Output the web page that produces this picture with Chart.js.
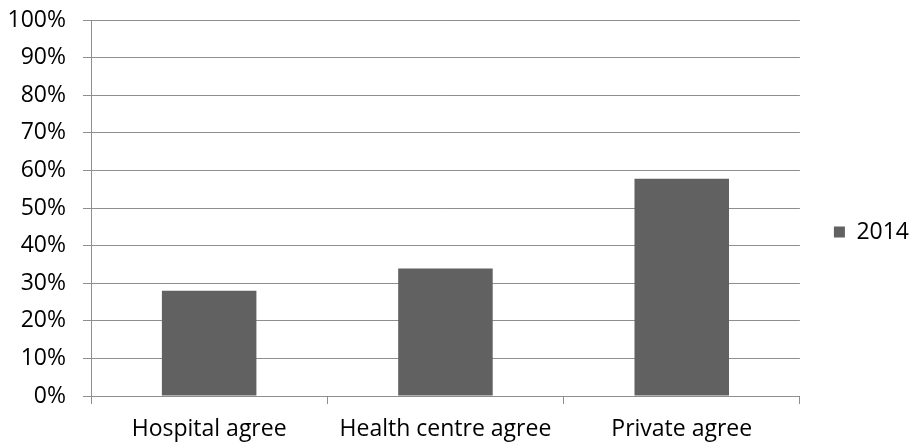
<!DOCTYPE html>
<html>
<head>
<meta charset="utf-8">
<script src="https://cdn.jsdelivr.net/npm/chart.js@4/dist/chart.umd.min.js"></script>
<style>
  html, body { margin: 0; padding: 0; background: #fff; }
  #wrap { width: 919px; height: 444px; }
</style>
</head>
<body>
<div id="wrap"><canvas id="c" width="919" height="444"></canvas></div>
<script>
//data
const categories = ['Hospital agree', 'Health centre agree', 'Private agree']
const seriesName = '2014'
const values2014 = [0.28, 0.339, 0.578]
const yTicks = [0, 0.1, 0.2, 0.3, 0.4, 0.5, 0.6, 0.7, 0.8, 0.9, 1]

const GRID = '#8e8e8e'
const BAR = '#616161'
const FONT = {family: 'Open Sans', size: 23}

new Chart(document.getElementById('c'), {
    type: 'bar',
    data: {
        labels: categories,
        datasets: [{
            label: seriesName,
            data: values2014,
            backgroundColor: BAR,
            borderWidth: 0,
            barPercentage: 0.4,
            categoryPercentage: 1
        }]
    },
    options: {
        responsive: false,
        animation: false,
        layout: {padding: {top: 20, right: 0, bottom: 0, left: 0}},
        plugins: {
            tooltip: {enabled: false},
            legend: {
                position: 'right',
                labels: {
                    color: '#000',
                    font: FONT,
                    boxWidth: 11,
                    boxHeight: 11,
                    padding: 34
                }
            }
        },
        scales: {
            x: {
                offset: true,
                afterFit: axis => { axis.height = 48 },
                grid: {color: GRID, lineWidth: 1, drawOnChartArea: false, tickLength: 8, offset: true},
                border: {color: GRID},
                ticks: {color: '#000', font: FONT, padding: 12, maxRotation: 0}
            },
            y: {
                min: 0,
                max: 1,
                afterBuildTicks: axis => { axis.ticks = yTicks.map(v => ({value: v})) },
                //fixed gutter, and drop the half-label gap chart.js adds above the top tick
                afterFit: axis => { axis.width = 91; axis.paddingTop = 0 },
                grid: {color: GRID, lineWidth: 1, tickLength: 8},
                border: {color: GRID},
                ticks: {
                    color: '#000',
                    font: FONT,
                    padding: 17,
                    callback: v => Math.round(v * 100) + '%'
                }
            }
        }
    }
})
</script>
</body>
</html>
